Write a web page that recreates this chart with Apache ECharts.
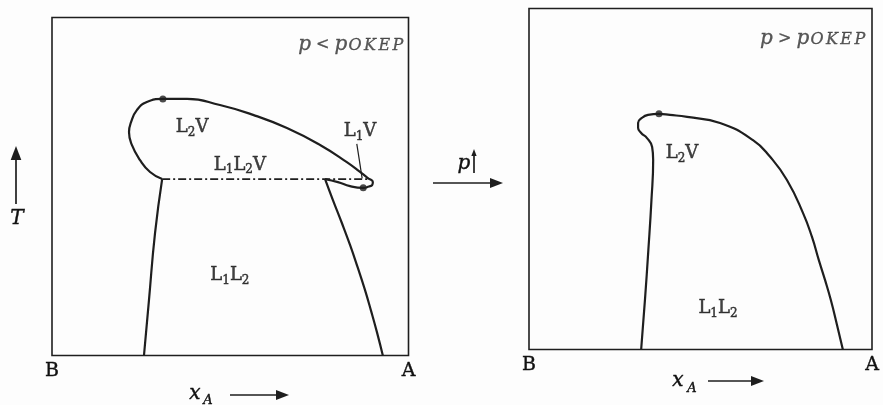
<!DOCTYPE html>
<html>
<head>
<meta charset="utf-8">
<script src="https://cdn.jsdelivr.net/npm/echarts@6/dist/echarts.min.js"></script>
<style>
  html, body { margin: 0; padding: 0; background: #fdfdfd; }
  #chart { width: 883px; height: 405px; }
</style>
</head>
<body>
<div id="chart"></div>
<script>
// Isobaric T–x_A sections of a binary system with a liquid–liquid gap.
// x_A: mole fraction of A (0 = pure B, 1 = pure A); T in relative units (0..100).

// ---- p < p_OKEP ----
const lowLeftBranch = [[0.258, 0], [0.272, 16.4], [0.289, 36.2], [0.309, 52.2]];
const lowVaporLoop = [
  [0.309, 52.2], [0.275, 54.3], [0.247, 57.8], [0.224, 62.3], [0.216, 66.1],
  [0.222, 69.1], [0.238, 72.6], [0.266, 75.0], [0.311, 75.9], [0.379, 75.9],
  [0.471, 74.1], [0.564, 71.2], [0.659, 67.3], [0.752, 62.3], [0.827, 57.2],
  [0.864, 54.3], [0.886, 52.5], [0.900, 51.3], [0.898, 50.4], [0.889, 50.0],
  [0.873, 49.6], [0.836, 50.1], [0.802, 51.3], [0.766, 52.2]
];
const lowRightBranch = [
  [0.766, 52.2], [0.788, 46.0], [0.812, 39.5], [0.836, 32.7], [0.857, 26.2],
  [0.877, 19.7], [0.895, 13.2], [0.912, 6.7], [0.928, 0]
];
const lowThreePhaseLine = [[0.309, 52.2], [0.886, 52.2]];
const lowCriticalPoints = [[0.311, 75.9], [0.873, 49.6]];
const lowL1VPointer = [[0.855, 62.6], [0.870, 52.4]];
const lowRegionLabels = [['L_2V', 0.393, 67.6], ['L_1L_2V', 0.527, 56.4], ['L_1V', 0.864, 66.4], ['L_1L_2', 0.499, 23.8]];
const lowPressureLabel = ['p', '<', 0.99, 92];

// ---- p > p_OKEP ----
const highBoundary = [
  [0.327, 0], [0.338, 14.5], [0.348, 29.2], [0.357, 43.8], [0.362, 55.6],
  [0.359, 59.4], [0.344, 62.0], [0.327, 63.5], [0.318, 65.0], [0.318, 66.4],
  [0.329, 67.9], [0.347, 68.8], [0.379, 69.1], [0.411, 68.8], [0.461, 68.2],
  [0.557, 66.4], [0.653, 61.4], [0.703, 56.5], [0.752, 49.7], [0.799, 40.0],
  [0.825, 33.0], [0.845, 26.2], [0.863, 20.4], [0.880, 14.5], [0.898, 7.2],
  [0.915, 0]
];
const highCriticalPoints = [[0.379, 69.1]];
const highRegionLabels = [['L_2V', 0.446, 57.6], ['L_1L_2', 0.551, 12.2]];
const highPressureLabel = ['p', '>', 0.985, 91];

// Composition axis end labels
const axisEndNames = ['B', 'A'];

const INK = '#1e1e1e';
const SERIF = 'DejaVu Serif';

// 'L_1L_2V' -> rich-text markup with subscripted digits
function phaseMarkup(s) {
  return s.replace(/_(\d)/g, '\u0000$1\u0001').split(/(\u0000\d\u0001)/)
    .filter(t => t.length)
    .map(t => t[0] === '\u0000' ? '{s|' + t[1] + '}' : '{m|' + t + '}')
    .join('');
}
function pressureMarkup(p, rel) {
  return '{i|' + p + '}{r| ' + rel + ' }{i|' + p + '}' +
    ['O', 'K', 'E', 'P'].map(c => '{k|' + c + '}').join('');
}

const heavy = { textBorderColor: '#111', textBorderWidth: 0.5 };
const phaseRich = {
  m: Object.assign({ fontFamily: SERIF, fontSize: 18, color: '#111' }, heavy),
  s: Object.assign({ fontFamily: SERIF, fontSize: 12, color: '#111', padding: [11, 0, 0, 0] }, heavy)
};
const pressureInk = { color: '#2e2e2e', textBorderColor: '#2e2e2e', textBorderWidth: 0.3 };
const pressureRich = {
  i: Object.assign({ fontFamily: SERIF, fontStyle: 'italic', fontSize: 20 }, pressureInk),
  r: Object.assign({ fontFamily: SERIF, fontSize: 16 }, pressureInk),
  k: Object.assign({ fontFamily: SERIF, fontStyle: 'italic', fontSize: 16, padding: [2, 1.2, 0, 1.2] }, pressureInk)
};

function curve(data, gi, extra) {
  return Object.assign({
    type: 'line', xAxisIndex: gi, yAxisIndex: gi, data: data,
    showSymbol: false, smooth: 0.5, silent: true,
    lineStyle: { color: INK, width: 2.2 }
  }, extra || {});
}
function dots(data, gi) {
  return { type: 'scatter', xAxisIndex: gi, yAxisIndex: gi, data: data, symbolSize: 7,
    itemStyle: { color: INK }, silent: true, z: 5 };
}
function textMarks(rows, gi) {
  return { type: 'scatter', xAxisIndex: gi, yAxisIndex: gi, symbolSize: 1, silent: true,
    itemStyle: { color: 'rgba(0,0,0,0)' },
    data: rows.map(r => ({ value: [r[1], r[2]], name: r[0] })),
    label: { show: true, position: 'inside', rich: phaseRich,
      formatter: p => phaseMarkup(p.name) } };
}
function pressureMark(row, gi) {
  return { type: 'scatter', xAxisIndex: gi, yAxisIndex: gi, symbolSize: 1, silent: true,
    itemStyle: { color: 'rgba(0,0,0,0)' },
    data: [{ value: [row[2], row[3]], name: row[1] }],
    label: { show: true, position: 'left', distance: 0, rich: pressureRich,
      formatter: p => pressureMarkup(row[0], p.name) } };
}

function xAxisFor(gi) {
  return { gridIndex: gi, type: 'value', min: 0, max: 1, interval: 1,
    axisLine: { show: false }, axisTick: { show: false }, splitLine: { show: false },
    axisLabel: { show: true, showMinLabel: true, showMaxLabel: true, margin: 6,
      fontFamily: SERIF, fontSize: 19, color: '#111', textBorderColor: '#111', textBorderWidth: 0.4,
      formatter: v => axisEndNames[v === 0 ? 0 : 1] } };
}
function yAxisFor(gi) {
  return { gridIndex: gi, type: 'value', min: 0, max: 100,
    axisLine: { show: false }, axisTick: { show: false }, splitLine: { show: false },
    axisLabel: { show: false } };
}

// Arrow helper for the annotation arrows drawn around the panels
function arrow(x1, y1, x2, y2, head) {
  const ang = Math.atan2(y2 - y1, x2 - x1);
  const bx = x2 - head * Math.cos(ang), by = y2 - head * Math.sin(ang);
  const w = head * 0.38;
  const nx = -Math.sin(ang) * w, ny = Math.cos(ang) * w;
  return [
    { type: 'line', shape: { x1: x1, y1: y1, x2: bx, y2: by }, style: { stroke: INK, lineWidth: 1.7 } },
    { type: 'polygon', shape: { points: [[x2, y2], [bx + nx, by + ny], [bx - nx, by - ny]] }, style: { fill: INK } }
  ];
}
function italic(x, y, s, size) {
  return { type: 'text', x: x, y: y, style: { text: s, font: 'italic ' + size + 'px "DejaVu Serif"',
    fill: '#111', stroke: '#111', lineWidth: 0.4, align: 'center', verticalAlign: 'middle' } };
}

const chart = echarts.init(document.getElementById('chart'), null, { renderer: 'canvas' });

const graphics = [].concat(
  // temperature axis arrow + symbol
  arrow(16, 204, 16, 146, 14),
  [italic(17, 219, 'T', 20)],
  // pressure increase arrow between the panels
  arrow(433, 183, 503, 183, 13),
  [italic(464, 164, 'p', 20)],
  arrow(474, 173, 474, 149, 7),
  // composition axis titles
  [italic(195, 394, 'x', 20), italic(208, 401, 'A', 13)],
  arrow(230, 395, 289, 395, 13),
  [italic(678, 381, 'x', 20), italic(692, 389, 'A', 13)],
  arrow(708, 381, 764, 381, 13)
);

chart.setOption({
  animation: false,
  backgroundColor: '#fdfdfd',
  grid: [
    { left: 52, top: 17.5, width: 356.5, height: 338, show: true, borderColor: INK, borderWidth: 1.6, backgroundColor: 'transparent', outerBoundsMode: 'none' },
    { left: 529, top: 8.5, width: 343, height: 341, show: true, borderColor: INK, borderWidth: 1.6, backgroundColor: 'transparent', outerBoundsMode: 'none' }
  ],
  xAxis: [xAxisFor(0), xAxisFor(1)],
  yAxis: [yAxisFor(0), yAxisFor(1)],
  series: [
    curve(lowLeftBranch, 0),
    curve(lowVaporLoop, 0),
    curve(lowRightBranch, 0),
    curve(lowThreePhaseLine, 0, { smooth: false, lineStyle: { color: INK, width: 1.8, type: [8, 3, 2, 3] } }),
    curve(lowL1VPointer, 0, { smooth: false, lineStyle: { color: INK, width: 1.2 } }),
    dots(lowCriticalPoints, 0),
    textMarks(lowRegionLabels, 0),
    pressureMark(lowPressureLabel, 0),

    curve(highBoundary, 1),
    dots(highCriticalPoints, 1),
    textMarks(highRegionLabels, 1),
    pressureMark(highPressureLabel, 1)
  ],
  graphic: graphics
});
</script>
</body>
</html>
